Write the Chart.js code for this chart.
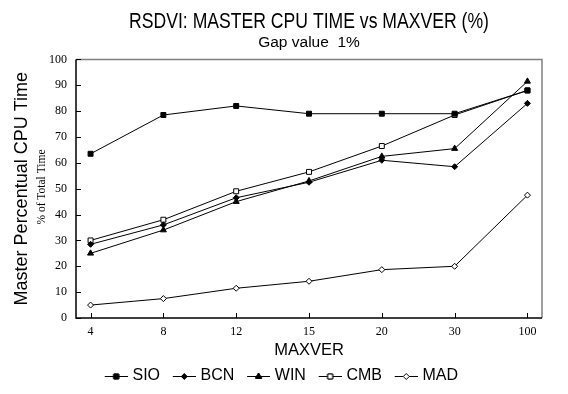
<!DOCTYPE html>
<html>
<head>
<meta charset="utf-8">
<script src="https://cdn.jsdelivr.net/npm/chart.js@4/dist/chart.umd.min.js"></script>
<style>
  html, body { margin: 0; padding: 0; background: #fff; }
  #wrap { width: 568px; height: 394px; }
</style>
</head>
<body>
<div id="wrap"><canvas id="grafico" width="568" height="394"></canvas></div>
<script>
// valores
const maxver = ['4', '8', '12', '15', '20', '30', '100'];
const sio = [63.5, 78.5, 82, 79, 79, 79, 88];
const bcn = [28.5, 36, 46.5, 52.5, 61, 58.5, 83];
const win = [25, 34, 45, 53, 62.5, 65.5, 91.5];
const cmb = [30, 38, 49, 56.5, 66.5, 78.5, 88];
const mad = [5, 7.5, 11.5, 14.2, 18.7, 20, 47.5];
const yTicks = [0, 10, 20, 30, 40, 50, 60, 70, 80, 90, 100];

const titulo = 'RSDVI: MASTER CPU TIME vs MAXVER (%)';

const SANS = "'Liberation Sans', Arial, sans-serif";
const SERIF = "'Liberation Serif', 'Times New Roman', serif";

function pontos(valores) {
    return valores.map((v, i) => ({ x: i, y: v }));
}

function serie(nome, valores, estilo, fundo, raio) {
    return {
        label: nome,
        data: pontos(valores),
        borderColor: '#000',
        borderWidth: 1,
        pointStyle: estilo,
        pointRadius: raio,
        pointBackgroundColor: fundo,
        pointBorderColor: '#000',
        pointBorderWidth: 1,
        tension: 0
    };
}

// desenho da legenda: linha de 23px com o marcador no meio, encostada à direita
function iconeLegenda(estilo, fundo, raio) {
    const c = document.createElement('canvas');
    c.width = 31;
    c.height = 12;
    const ctx = c.getContext('2d');
    ctx.strokeStyle = '#000';
    ctx.lineWidth = 1;
    ctx.beginPath();
    ctx.moveTo(8, 6.5);
    ctx.lineTo(31, 6.5);
    ctx.stroke();
    ctx.fillStyle = fundo;
    Chart.helpers.drawPoint(ctx, { pointStyle: estilo, radius: raio, borderWidth: 1 }, 19.5, 6.5);
    ctx.fill();
    ctx.stroke();
    return c;
}

// título principal em letra estreita (não há fonte condensada instalada)
const tituloEstreito = {
    id: 'tituloEstreito',
    afterDraw(chart) {
        const { ctx, chartArea: a } = chart;
        ctx.save();
        ctx.fillStyle = '#000';
        ctx.font = '22px ' + SANS;
        ctx.textAlign = 'center';
        ctx.textBaseline = 'middle';
        ctx.translate((a.left + a.right) / 2, 22);
        ctx.scale(0.8, 1);
        ctx.fillText(titulo, 0, 0);
        ctx.restore();
    }
};

// moldura e marcas de escala para dentro
const moldura = {
    id: 'moldura',
    afterDraw(chart) {
        const { ctx, chartArea: a, scales } = chart;
        ctx.save();
        ctx.strokeStyle = '#808080';
        ctx.lineWidth = 1.5;
        ctx.beginPath();
        ctx.moveTo(a.left, a.top);
        ctx.lineTo(a.right, a.top);
        ctx.lineTo(a.right, a.bottom);
        ctx.stroke();
        ctx.strokeStyle = '#000';
        ctx.lineWidth = 1.5;
        ctx.beginPath();
        ctx.moveTo(a.left, a.top);
        ctx.lineTo(a.left, a.bottom);
        ctx.lineTo(a.right, a.bottom);
        ctx.stroke();
        ctx.lineWidth = 1;
        ctx.beginPath();
        scales.y.ticks.forEach(t => {
            const y = Math.round(scales.y.getPixelForValue(t.value)) + 0.5;
            ctx.moveTo(a.left, y);
            ctx.lineTo(a.left + 5, y);
        });
        scales.x.ticks.forEach(t => {
            const x = Math.round(scales.x.getPixelForValue(t.value)) + 0.5;
            ctx.moveTo(x, a.bottom);
            ctx.lineTo(x, a.bottom - 5);
        });
        ctx.stroke();
        // segunda linha do título do eixo y
        ctx.fillStyle = '#000';
        ctx.font = '11.5px ' + SERIF;
        ctx.textAlign = 'center';
        ctx.textBaseline = 'middle';
        ctx.translate(42, 187);
        ctx.rotate(-Math.PI / 2);
        ctx.fillText('% of Total Time', 0, 0);
        ctx.restore();
    }
};

const icones = [
    iconeLegenda('rect', '#000', 3.5),
    iconeLegenda('rectRot', '#000', 3),
    iconeLegenda('triangle', '#000', 3.5),
    iconeLegenda('rect', '#fff', 3.5),
    iconeLegenda('rectRot', '#fff', 3)
];

const ctx = document.getElementById('grafico').getContext('2d');
new Chart(ctx, {
    type: 'line',
    data: {
        datasets: [
            serie('SIO', sio, 'rect', '#000', 3.5),
            serie('BCN', bcn, 'rectRot', '#000', 3),
            serie('WIN', win, 'triangle', '#000', 3.5),
            serie('CMB', cmb, 'rect', '#fff', 3.5),
            serie('MAD', mad, 'rectRot', '#fff', 3)
        ]
    },
    options: {
        responsive: false,
        animation: false,
        devicePixelRatio: 1,
        layout: { padding: { left: 16, right: 26, top: 0, bottom: 0 } },
        scales: {
            x: {
                type: 'linear',
                min: -0.2,
                max: 6.2,
                afterBuildTicks: s => { s.ticks = maxver.map((_, i) => ({ value: i })); },
                afterFit: s => { s.height = 42; },
                grid: { display: false, drawTicks: false },
                border: { display: false },
                ticks: {
                    color: '#000',
                    padding: 7,
                    maxRotation: 0,
                    font: { family: SERIF, size: 12 },
                    callback: v => maxver[v]
                },
                title: {
                    display: true,
                    text: 'MAXVER',
                    color: '#000',
                    font: { family: SANS, size: 16.5, lineHeight: 0.9 },
                    padding: { top: 0, bottom: 2.5 }
                }
            },
            y: {
                min: 0,
                max: 100,
                afterBuildTicks: s => { s.ticks = yTicks.map(v => ({ value: v })); },
                afterFit: s => { s.width = 60; },
                grid: { display: false, drawTicks: false },
                border: { display: false },
                ticks: {
                    color: '#000',
                    padding: 9,
                    font: { family: SERIF, size: 12 }
                },
                title: {
                    display: true,
                    text: 'Master Percentual CPU Time',
                    color: '#000',
                    font: { family: SANS, size: 18 },
                    padding: { top: -5, bottom: 0 }
                }
            }
        },
        plugins: {
            title: { display: false },
            subtitle: {
                display: true,
                fullSize: false,
                text: 'Gap value  1%',
                color: '#000',
                font: { family: SANS, size: 15.5 },
                padding: { top: 33.2, bottom: 7.6 }
            },
            legend: {
                position: 'bottom',
                labels: {
                    color: '#000',
                    font: { family: SANS, size: 16 },
                    usePointStyle: true,
                    pointStyleWidth: 24.5,
                    padding: 8,
                    generateLabels: chart => chart.data.datasets.map((d, i) => ({
                        text: d.label,
                        pointStyle: icones[i],
                        fontColor: '#000',
                        strokeStyle: '#000',
                        fillStyle: '#000',
                        lineWidth: 0,
                        datasetIndex: i
                    }))
                }
            },
            tooltip: { enabled: false }
        }
    },
    plugins: [moldura, tituloEstreito]
});
</script>
</body>
</html>
